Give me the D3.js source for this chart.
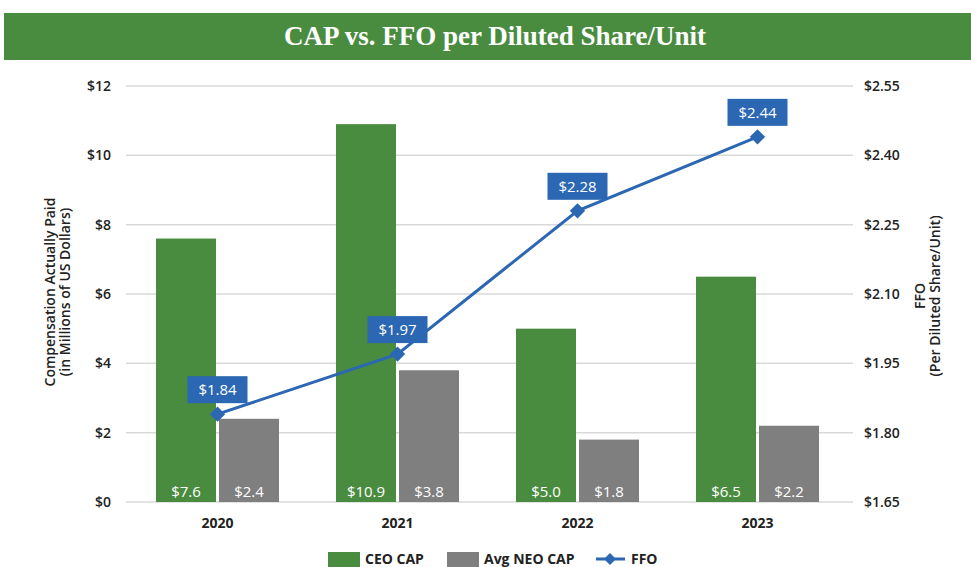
<!DOCTYPE html>
<html>
<head>
<meta charset="utf-8">
<script src="https://cdn.jsdelivr.net/npm/d3@7"></script>
<style>
  body { margin: 0; background: #fff; }
  svg { display: block; font-family: "Open Sans", "Noto Sans", sans-serif; }
</style>
</head>
<body>
<svg id="chart"></svg>
<script>
const years = ["2020", "2021", "2022", "2023"];
const ceoCap = [7.6, 10.9, 5.0, 6.5];
const neoCap = [2.4, 3.8, 1.8, 2.2];
const ffo = [1.84, 1.97, 2.28, 2.44];
const leftTicks = [0, 2, 4, 6, 8, 10, 12];
const rightTicks = [1.65, 1.80, 1.95, 2.10, 2.25, 2.40, 2.55];

const width = 971, height = 567;
const green = "#4a8c3f", gray = "#7f7f7f", blue = "#2b67b2";

const svg = d3.select("#chart").attr("width", width).attr("height", height);

// title bar
svg.append("rect")
    .attr("x", 4).attr("y", 13)
    .attr("width", width - 4).attr("height", 47)
    .attr("fill", green);
svg.append("text")
    .attr("x", 495).attr("y", 45)
    .attr("text-anchor", "middle")
    .attr("fill", "#fff")
    .attr("font-family", "'Liberation Serif', 'Times New Roman', serif")
    .attr("font-weight", "bold")
    .attr("font-size", 27)
    .text("CAP vs. FFO per Diluted Share/Unit");

// plot area
const gx0 = 126, gx1 = 853;
const yTop = 86, yBot = 502;

const x = d3.scaleBand().domain(years).range([127.5, 847.5]);
const y = d3.scaleLinear().domain([0, 12]).range([yBot, yTop]);
const y2 = d3.scaleLinear().domain([1.65, 2.55]).range([yBot, yTop]);

const barW = 60, gap = 3;

// gridlines
svg.append("g")
  .selectAll("line")
  .data(leftTicks)
  .join("line")
    .attr("x1", gx0).attr("x2", gx1)
    .attr("y1", d => y(d)).attr("y2", d => y(d))
    .attr("stroke", "#d9d9d9")
    .attr("stroke-width", 1.5);

// left axis labels
svg.append("g")
  .selectAll("text")
  .data(leftTicks)
  .join("text")
    .attr("x", 111).attr("y", d => y(d))
    .attr("dy", "0.35em")
    .attr("text-anchor", "end")
    .attr("font-size", 14).attr("font-weight", 600)
    .attr("fill", "#222")
    .text(d => "$" + d);

// right axis labels
svg.append("g")
  .selectAll("text")
  .data(rightTicks)
  .join("text")
    .attr("x", 864).attr("y", d => y2(d))
    .attr("dy", "0.35em")
    .attr("font-size", 14).attr("font-weight", 600)
    .attr("fill", "#222")
    .text(d => "$" + d.toFixed(2));

// axis titles
const lt = svg.append("text")
    .attr("transform", `translate(55,${(yTop + yBot) / 2 - 2}) rotate(-90)`)
    .attr("text-anchor", "middle")
    .attr("font-size", 14).attr("font-weight", 600)
    .attr("fill", "#222");
lt.append("tspan").attr("x", 0).attr("dy", 0).text("Compensation Actually Paid");
lt.append("tspan").attr("x", 0).attr("dy", 15).text("(in Millions of US Dollars)");

const rt = svg.append("text")
    .attr("transform", `translate(925,${(yTop + yBot) / 2 + 2}) rotate(-90)`)
    .attr("text-anchor", "middle")
    .attr("font-size", 14).attr("font-weight", 600)
    .attr("fill", "#222");
rt.append("tspan").attr("x", 0).attr("dy", 0).text("FFO");
rt.append("tspan").attr("x", 0).attr("dy", 15).text("(Per Diluted Share/Unit)");

// bars
const groupX = d => x(d) + x.bandwidth() / 2;
const bars = svg.append("g");
years.forEach((yr, i) => {
  const cx = groupX(yr);
  bars.append("rect")
      .attr("x", cx - gap / 2 - barW).attr("y", y(ceoCap[i]))
      .attr("width", barW).attr("height", y(0) - y(ceoCap[i]))
      .attr("fill", green);
  bars.append("rect")
      .attr("x", cx + gap / 2).attr("y", y(neoCap[i]))
      .attr("width", barW).attr("height", y(0) - y(neoCap[i]))
      .attr("fill", gray);
  bars.append("text")
      .attr("x", cx - gap / 2 - barW / 2).attr("y", y(0) - 10)
      .attr("dy", "0.35em")
      .attr("text-anchor", "middle")
      .attr("font-size", 15).attr("fill", "#fff")
      .text("$" + ceoCap[i].toFixed(1));
  bars.append("text")
      .attr("x", cx + gap / 2 + barW / 2).attr("y", y(0) - 10)
      .attr("dy", "0.35em")
      .attr("text-anchor", "middle")
      .attr("font-size", 15).attr("fill", "#fff")
      .text("$" + neoCap[i].toFixed(1));
});

// x labels
svg.append("g")
  .selectAll("text")
  .data(years)
  .join("text")
    .attr("x", groupX).attr("y", 523)
    .attr("dy", "0.35em")
    .attr("text-anchor", "middle")
    .attr("font-size", 14).attr("font-weight", "bold")
    .attr("fill", "#222")
    .text(d => d);

// FFO line
const line = d3.line()
    .x((d, i) => groupX(years[i]))
    .y(d => y2(d));
svg.append("path")
    .datum(ffo)
    .attr("d", line)
    .attr("fill", "none")
    .attr("stroke", blue)
    .attr("stroke-width", 3);

const diamond = d3.symbol().type(d3.symbolDiamond2).size(150);
svg.append("g")
  .selectAll("path")
  .data(ffo)
  .join("path")
    .attr("transform", (d, i) => `translate(${groupX(years[i])},${y2(d)})`)
    .attr("d", diamond)
    .attr("fill", blue);

// FFO labels
const lbl = svg.append("g")
  .selectAll("g")
  .data(ffo)
  .join("g")
    .attr("transform", (d, i) => `translate(${groupX(years[i])},${y2(d) - 24})`);
lbl.append("rect")
    .attr("x", -30).attr("y", -14)
    .attr("width", 60).attr("height", 27)
    .attr("fill", blue);
lbl.append("text")
    .attr("text-anchor", "middle")
    .attr("dy", "0.35em")
    .attr("font-size", 15).attr("fill", "#fff")
    .text(d => "$" + d.toFixed(2));

// legend
const legend = svg.append("g").attr("transform", "translate(0,559)");
legend.append("rect").attr("x", 328).attr("y", -7).attr("width", 32).attr("height", 15).attr("fill", green);
legend.append("text").attr("x", 365).attr("y", 0).attr("dy", "0.35em")
    .attr("font-size", 14).attr("font-weight", "bold").attr("fill", "#222").text("CEO CAP");
legend.append("rect").attr("x", 447).attr("y", -7).attr("width", 32).attr("height", 15).attr("fill", gray);
legend.append("text").attr("x", 484).attr("y", 0).attr("dy", "0.35em")
    .attr("font-size", 14).attr("font-weight", "bold").attr("fill", "#222").text("Avg NEO CAP");
legend.append("line").attr("x1", 596).attr("x2", 625).attr("y1", 0).attr("y2", 0)
    .attr("stroke", blue).attr("stroke-width", 3);
legend.append("path").attr("transform", "translate(610,0)")
    .attr("d", d3.symbol().type(d3.symbolDiamond2).size(90)).attr("fill", blue);
legend.append("text").attr("x", 631).attr("y", 0).attr("dy", "0.35em")
    .attr("font-size", 14).attr("font-weight", "bold").attr("fill", "#222").text("FFO");
</script>
</body>
</html>
